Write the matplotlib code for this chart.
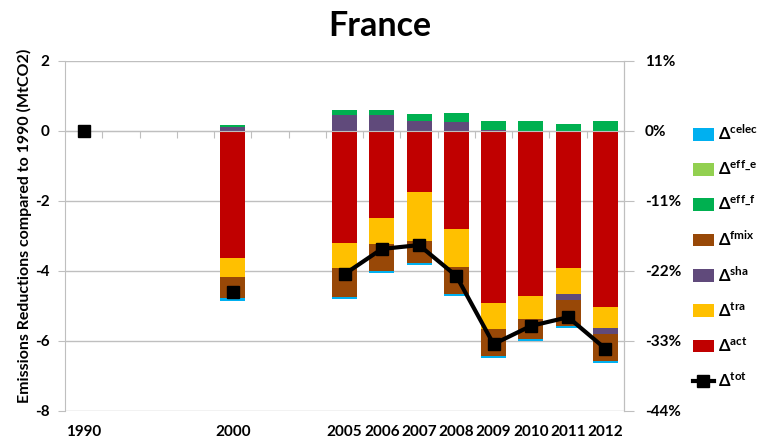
import numpy as np
import matplotlib
matplotlib.use("Agg")
import matplotlib.pyplot as plt
from matplotlib.patches import Patch
from matplotlib.lines import Line2D
from matplotlib.ticker import FixedLocator, FuncFormatter

plt.rcParams['font.family'] = ['Lato', 'DejaVu Sans']
plt.rcParams['font.weight'] = 'bold'
plt.rcParams['mathtext.fontset'] = 'custom'
plt.rcParams['mathtext.rm'] = 'Lato:bold'
plt.rcParams['mathtext.bf'] = 'Lato:bold'
plt.rcParams['mathtext.it'] = 'Lato:bold'

categories = ['1990', '', '', '', '2000', '', '', '2005', '2006', '2007',
              '2008', '2009', '2010', '2011', '2012']

act   = [0, 0, 0, 0, -3.64, 0, 0, -3.19, -2.49, -1.75, -2.81, -4.92, -4.70, -3.90, -5.02]
tra   = [0, 0, 0, 0, -0.54, 0, 0, -0.72, -0.75, -1.38, -1.08, -0.74, -0.67, -0.77, -0.60]
sha   = [0, 0, 0, 0, 0.12, 0, 0, 0.45, 0.45, 0.30, 0.27, 0.03, 0.00, -0.17, -0.18]
fmix  = [0, 0, 0, 0, -0.60, 0, 0, -0.84, -0.75, -0.64, -0.78, -0.76, -0.58, -0.73, -0.76]
eff_f = [0, 0, 0, 0, 0.06, 0, 0, 0.15, 0.14, 0.19, 0.24, 0.25, 0.30, 0.19, 0.29]
eff_e = [0, 0, 0, 0, 0.00, 0, 0, 0.00, 0.00, 0.00, 0.00, 0.00, 0.00, 0.00, 0.00]
celec = [0, 0, 0, 0, -0.07, 0, 0, -0.06, -0.06, -0.05, -0.05, -0.07, -0.05, -0.07, -0.07]
tot   = [0, np.nan, np.nan, np.nan, -4.59, np.nan, np.nan, -4.09, -3.37, -3.26,
         -4.14, -6.09, -5.57, -5.32, -6.22]

series = [
    ('act', act, '#C00000'),
    ('tra', tra, '#FFC000'),
    ('sha', sha, '#604A7B'),
    ('fmix', fmix, '#984807'),
    ('eff_f', eff_f, '#00B050'),
    ('eff_e', eff_e, '#92D050'),
    ('celec', celec, '#00B0F0'),
]

fig = plt.figure(figsize=(7.59, 4.43), dpi=100)
ax = fig.add_axes([65/759, 1-411/443, (624-65)/759, 350/443])

x = np.arange(len(categories))
pos = np.zeros(len(x))
neg = np.zeros(len(x))
for name, vals, col in series:
    v = np.array(vals, dtype=float)
    bottom = np.where(v >= 0, pos, neg)
    ax.bar(x, v, width=0.67, bottom=bottom, color=col, linewidth=0, zorder=2)
    pos = pos + np.where(v >= 0, v, 0)
    neg = neg + np.where(v < 0, v, 0)

ax.plot(x, tot, color='black', linewidth=3, marker='s', markersize=9, zorder=4)

grid_col = '#BFBFBF'
ax.set_xlim(-0.5, len(categories) - 0.5)
ax.set_ylim(-8, 2)
ax.set_yticks([-8, -6, -4, -2, 0, 2])
ax.yaxis.set_major_formatter(FuncFormatter(lambda v, p: f'{v:.0f}'))
ax.grid(axis='y', color=grid_col, linewidth=1, zorder=0)
ax.set_axisbelow(True)
for s in ['top', 'bottom']:
    ax.spines[s].set_visible(False)
for s in ['left', 'right']:
    ax.spines[s].set_color(grid_col)
ax.tick_params(axis='y', length=5, color=grid_col, labelsize=11, pad=6)

# category axis line at zero with boundary ticks
ax.spines['bottom'].set_visible(True)
ax.spines['bottom'].set_position(('data', 0))
ax.spines['bottom'].set_color(grid_col)
ax.xaxis.set_major_locator(FixedLocator(np.arange(0.5, len(categories) - 1, 1.0)))
ax.tick_params(axis='x', length=5, color=grid_col, labelbottom=False)

sec = ax.secondary_xaxis(0)
sec.set_xticks(x)
sec.set_xticklabels(categories)
sec.spines['bottom'].set_visible(False)
sec.tick_params(length=0, labelsize=11, pad=10)

ax.set_ylabel('Emissions Reductions compared to 1990 (MtCO2)', fontsize=11.5,
              fontweight='bold', labelpad=2)
ax.yaxis.label.set_y(0.53)

ax2 = ax.twinx()
ax2.set_ylim(-44, 11)
ax2.set_yticks([-44, -33, -22, -11, 0, 11])
ax2.yaxis.set_major_formatter(FuncFormatter(lambda v, p: f'{v:.0f}%'))
for s in ['top', 'bottom', 'left']:
    ax2.spines[s].set_visible(False)
ax2.spines['right'].set_color(grid_col)
ax2.tick_params(axis='y', length=7, color=grid_col, labelsize=11, pad=8)

fig.suptitle('France', fontsize=24.5, fontweight='bold', y=0.978)

legend_order = ['celec', 'eff_e', 'eff_f', 'fmix', 'sha', 'tra', 'act']
colmap = {n: c for n, _, c in series}
def lab(n):
    return 'Δ$^{\\mathbf{' + n.replace('_', '\\_') + '}}$'
handles = [Patch(facecolor=colmap[n], edgecolor='none') for n in legend_order]
labels = [lab(n) for n in legend_order]
handles.append(Line2D([], [], color='black', linewidth=3, marker='s', markersize=8))
labels.append(lab('tot'))
fig.legend(handles, labels, loc='upper left', bbox_to_anchor=(686/759, 1-117/443),
           frameon=False, fontsize=12, handlelength=1.25, handleheight=0.8,
           handletextpad=0.25, labelspacing=0.98, borderaxespad=0)

fig.savefig('out.png', dpi=100)
